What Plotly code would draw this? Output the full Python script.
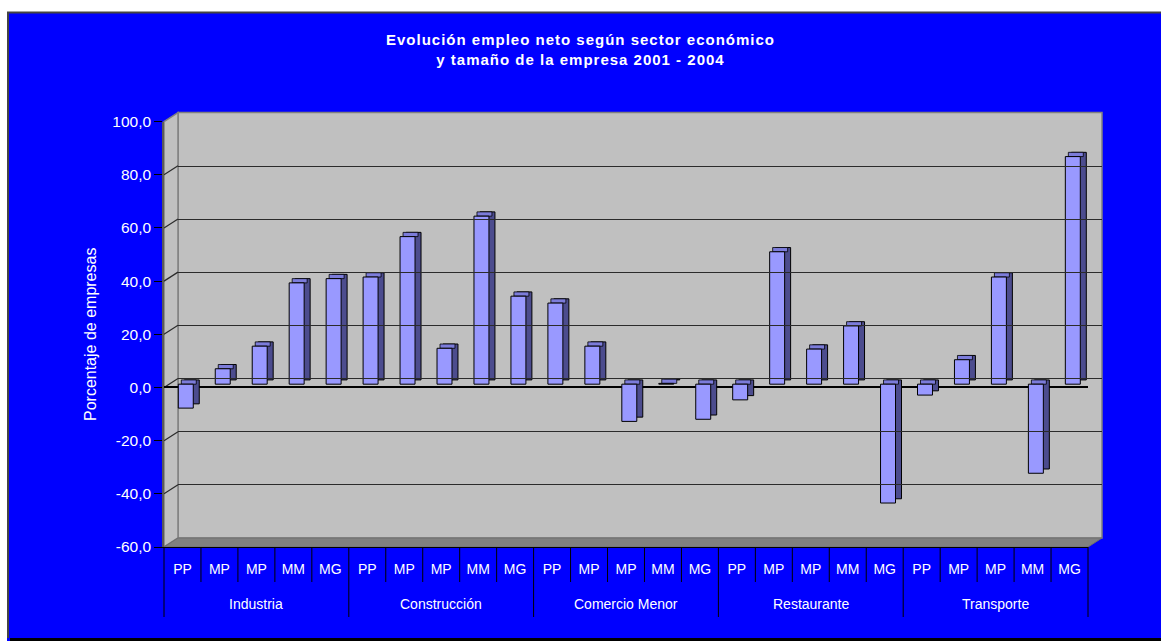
import plotly.graph_objects as go

# Net employment change by sector and company size, 2001 - 2004 (% of companies)
sectores = ["Industria", "Construcción", "Comercio Menor", "Restaurante", "Transporte"]
tamanos = ["PP", "MP", "MP", "MM", "MG"]

industria = [-9.0, 5.8, 14.3, 38.1, 39.7]
construccion = [40.3, 55.5, 13.5, 63.2, 33.1]
comercio_menor = [30.5, 14.3, -14.0, 0.3, -13.2]
restaurante = [-5.9, 49.8, 13.2, 21.9, -44.7]
transporte = [-4.1, 9.2, 40.3, -33.5, 85.6]

y_ticks = [-60, -40, -20, 0, 20, 40, 60, 80, 100]
y_ticktext = ["-60,0", "-40,0", "-20,0", "0,0", "20,0", "40,0", "60,0", "80,0", "100,0"]

titulo = ("<b><span style='letter-spacing:1px'>Evolución empleo neto según sector económico"
          "<br>y tamaño de la empresa 2001 - 2004</span></b>")
titulo_y = "Porcentaje de empresas"

# ---------------------------------------------------------------- geometry
W, H = 1161, 641
L, R, T, B = 164, 59, 113, 94
PW, PH = W - L - R, H - T - B


def px(x):
    """pixel column -> paper x"""
    return (x - L) / PW


def py(y):
    """pixel row -> paper y"""
    return (H - B - y) / PH


FRONT_L, FRONT_R, FRONT_TOP, FRONT_BOT = 164, 1088, 121.6, 547
BACK_L, BACK_R, BACK_TOP, BACK_BOT = 178, 1102, 112.6, 538
SLANT_Y = FRONT_BOT - BACK_BOT
ROW1_BOT, ROW2_Y, ROW2_BOT = 582, 604, 617

BAR_W = 0.405      # bar width, in category units
BAR_OFF = -0.113   # left edge of the front face relative to the category centre
DX = 0.162         # depth of the extruded side (category units)
DY = 1.6           # rise of the top face (value units)

FRONT = "#9999FF"
SIDE = "#4C4C8E"
TOP = "#7C7CDA"

valores = industria + construccion + comercio_menor + restaurante + transporte
n_cat = len(valores)
n_grp = len(tamanos)
pos = list(range(n_cat))
x_dom = [0, px(FRONT_R)]


def cat_to_paper(c):
    return x_dom[0] + (c + 0.5) / n_cat * (x_dom[1] - x_dom[0])


fig = go.Figure()

# extruded depth of each column
fig.add_trace(go.Bar(
    x=pos, y=valores, base=DY, width=BAR_W, offset=BAR_OFF + DX,
    marker=dict(color=SIDE, line=dict(color="black", width=1)),
    yaxis="y3", hoverinfo="skip",
))
# top face
fig.add_trace(go.Bar(
    x=pos, y=[DY] * n_cat, base=[max(v, 0) for v in valores],
    width=BAR_W, offset=BAR_OFF + DX / 2,
    marker=dict(color=TOP, line=dict(color="black", width=0.8)),
    yaxis="y3", hoverinfo="skip",
))
# front face
fig.add_trace(go.Bar(
    x=pos, y=valores, width=BAR_W, offset=BAR_OFF,
    marker=dict(color=FRONT, line=dict(color="black", width=1)),
    yaxis="y3",
))
# placeholders so the front axis and the back wall get their own subplots
fig.add_trace(go.Scatter(x=[0], y=[0], mode="markers", marker=dict(opacity=0),
                         hoverinfo="skip", xaxis="x", yaxis="y"))
fig.add_trace(go.Scatter(x=[0.5], y=[0], mode="markers", marker=dict(opacity=0),
                         hoverinfo="skip", xaxis="x2", yaxis="y2"))


def y_front(v):
    return FRONT_BOT - (v + 60) / 160 * (FRONT_BOT - FRONT_TOP)


shapes = [
    # page margin and drop shadow around the chart area
    dict(type="rect", xref="paper", yref="paper", x0=px(0), x1=px(W), y0=py(0), y1=py(12),
         fillcolor="white", line=dict(width=0), layer="below"),
    dict(type="rect", xref="paper", yref="paper", x0=px(0), x1=px(7), y0=py(0), y1=py(H),
         fillcolor="white", line=dict(width=0), layer="below"),
    dict(type="rect", xref="paper", yref="paper", x0=px(10), x1=px(W), y0=py(638), y1=py(H),
         fillcolor="black", line=dict(width=0), layer="below"),
    dict(type="path", xref="paper", yref="paper",
         path=f"M{px(8)},{py(638)} L{px(8)},{py(12.5)} L{px(W)},{py(12.5)}",
         line=dict(color="#444444", width=2), layer="below"),
    # back wall
    dict(type="rect", xref="paper", yref="paper", x0=px(BACK_L), x1=px(BACK_R),
         y0=py(BACK_BOT), y1=py(BACK_TOP), fillcolor="#C0C0C0",
         line=dict(color="#808080", width=1.5), layer="below"),
    # side wall
    dict(type="path", xref="paper", yref="paper",
         path=(f"M{px(FRONT_L)},{py(FRONT_TOP)} L{px(BACK_L)},{py(BACK_TOP)} "
               f"L{px(BACK_L)},{py(BACK_BOT)} L{px(FRONT_L)},{py(FRONT_BOT)} Z"),
         fillcolor="#C0C0C0", line=dict(color="#808080", width=1.5), layer="below"),
    # floor
    dict(type="path", xref="paper", yref="paper",
         path=(f"M{px(FRONT_L)},{py(FRONT_BOT)} L{px(BACK_L)},{py(BACK_BOT)} "
               f"L{px(BACK_R)},{py(BACK_BOT)} L{px(FRONT_R)},{py(FRONT_BOT)} Z"),
         fillcolor="#808080", line=dict(color="#6E6E6E", width=1), layer="below"),
]
# gridlines running across the side wall
for v in y_ticks[1:-1]:
    shapes.append(dict(type="line", xref="paper", yref="paper",
                       x0=px(FRONT_L), y0=py(y_front(v)),
                       x1=px(BACK_L), y1=py(y_front(v) - SLANT_Y),
                       line=dict(color="#2B2B2B", width=1.2), layer="below"))
# cell borders of the two-level category labels
for k in range(n_cat + 1):
    edge = cat_to_paper(k - 0.5)
    bottom = ROW2_BOT if k % n_grp == 0 else ROW1_BOT
    shapes.append(dict(type="line", xref="paper", yref="paper",
                       x0=edge, x1=edge, y0=py(FRONT_BOT), y1=py(bottom),
                       line=dict(color="black", width=1)))

annotations = [
    dict(text=s, xref="x", yref="paper", x=g * n_grp + (n_grp - 1) / 2, y=py(ROW2_Y),
         xanchor="center", yanchor="middle", showarrow=False,
         font=dict(size=14, color="white"))
    for g, s in enumerate(sectores)
]

fig.update_layout(
    width=W, height=H, autosize=False,
    margin=dict(l=L, r=R, t=T, b=B, pad=0),
    paper_bgcolor="#0000FF", plot_bgcolor="rgba(0,0,0,0)",
    barmode="overlay", showlegend=False,
    font=dict(family="Liberation Sans, Arial, sans-serif", color="white"),
    title=dict(text=titulo, x=0.5, xanchor="center", xref="container",
               y=1 - 45 / H, yanchor="top", yref="container",
               font=dict(size=15, color="white")),
    xaxis=dict(
        domain=x_dom, anchor="y", range=[-0.5, n_cat - 0.5],
        tickmode="array", tickvals=pos, ticktext=tamanos * len(sectores),
        showline=True, linecolor="black", linewidth=1,
        ticks="outside", ticklen=9, tickcolor="rgba(0,0,0,0)",
        tickfont=dict(size=14, color="white"),
        showgrid=False, zeroline=False,
    ),
    yaxis=dict(
        domain=[0, py(FRONT_TOP)], anchor="x", range=[-60, 100],
        tickmode="array", tickvals=y_ticks, ticktext=y_ticktext,
        ticks="outside", ticklen=8, tickcolor="black", tickwidth=1,
        showline=True, linecolor="#5A5A5A", linewidth=1.5,
        showgrid=False, zeroline=True, zerolinecolor="black", zerolinewidth=1.5,
        tickfont=dict(size=15.5, color="white"),
        title=dict(text=titulo_y, font=dict(size=16, color="white"), standoff=12),
    ),
    yaxis3=dict(overlaying="y", anchor="x", range=[-60 - 1.24, 100 - 1.24], visible=False),
    xaxis2=dict(domain=[px(BACK_L), 1], anchor="y2", range=[0, 1], visible=False),
    yaxis2=dict(
        domain=[py(BACK_BOT), 1], anchor="x2", range=[-60, 100],
        tickmode="array", tickvals=y_ticks, showticklabels=False, ticks="",
        showgrid=True, gridcolor="#2B2B2B", gridwidth=1.3,
        zeroline=False, showline=False,
    ),
    shapes=shapes,
    annotations=annotations,
)

fig.write_html("out.html")
